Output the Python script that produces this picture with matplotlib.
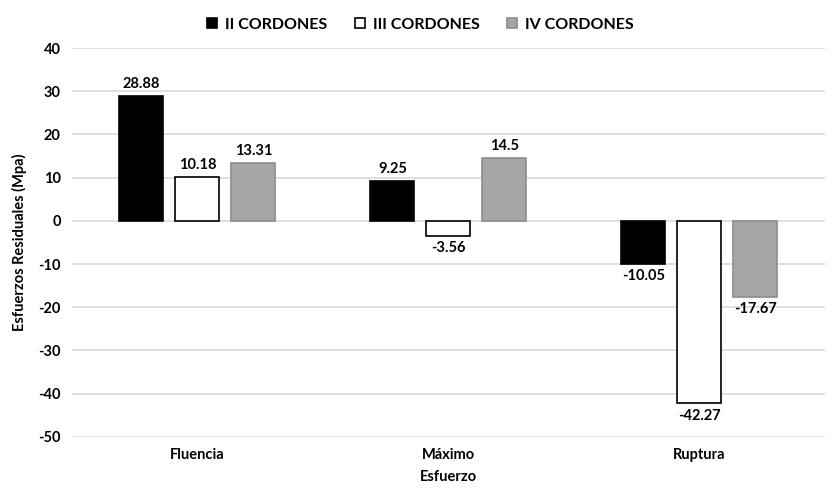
import matplotlib.pyplot as plt
import numpy as np

plt.rcParams['font.family'] = ['Lato', 'DejaVu Sans']
plt.rcParams['font.weight'] = 'bold'
plt.rcParams['axes.unicode_minus'] = False

categorias = ['Fluencia', 'Máximo', 'Ruptura']
series = ['II CORDONES', 'III CORDONES', 'IV CORDONES']
ii = [28.88, 9.25, -10.05]
iii = [10.18, -3.56, -42.27]
iv = [13.31, 14.5, -17.67]
etiquetas = [['28.88', '9.25', '-10.05'],
             ['10.18', '-3.56', '-42.27'],
             ['13.31', '14.5', '-17.67']]

caras = ['black', 'white', '#a6a6a6']
bordes = ['black', 'black', '#8c8c8c']

fig = plt.figure(figsize=(8.35, 5.01), dpi=100)
ax = fig.add_axes([0.086, 0.128, 0.902, 0.776])

x = np.arange(len(categorias))
w = 0.175
paso = 0.223
for i, vals in enumerate([ii, iii, iv]):
    pos = x + (i - 1) * paso
    ax.bar(pos, vals, w, color=caras[i], edgecolor=bordes[i], linewidth=1.2,
           label=series[i], zorder=3)
    for xp, v, t in zip(pos, vals, etiquetas[i]):
        if v >= 0:
            ax.text(xp, v + 1.2, t, ha='center', va='bottom', fontsize=10.5, fontweight='bold')
        else:
            ax.text(xp, v - 1.2, t, ha='center', va='top', fontsize=10.5, fontweight='bold')

ax.set_xlim(-0.5, 2.5)
ax.set_ylim(-50, 40)
ax.set_yticks(np.arange(-50, 41, 10))
ax.set_xticks(x)
ax.set_xticklabels(categorias)
ax.tick_params(axis='both', length=0, labelsize=10.5, pad=8)
ax.yaxis.grid(True, color='#d9d9d9', linewidth=1.2, zorder=0)
for s in ax.spines.values():
    s.set_visible(False)
ax.set_ylabel('Esfuerzos Residuales (Mpa)', fontsize=10.5, fontweight='bold', labelpad=8)
ax.set_xlabel('Esfuerzo', fontsize=10.5, fontweight='bold', labelpad=6)

ax.legend(loc='upper center', bbox_to_anchor=(0.463, 1.115), ncol=3, frameon=False,
          fontsize=11.5, handlelength=0.65, handleheight=0.65, columnspacing=1.7,
          handletextpad=0.5)

fig.savefig('out.png', dpi=100)
